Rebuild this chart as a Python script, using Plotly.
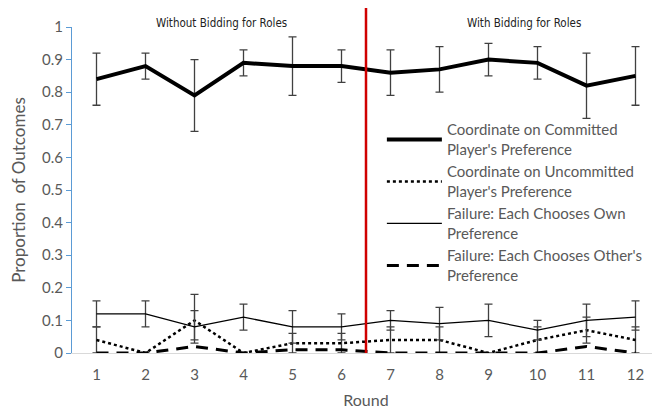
import plotly.graph_objects as go

# Rounds
rounds = list(range(1, 13))
tick_text = [str(r) for r in rounds]

# Coordinate on Committed Player's Preference
committed = [0.84, 0.88, 0.79, 0.89, 0.88, 0.88, 0.86, 0.87, 0.90, 0.89, 0.82, 0.85]
committed_hi = [0.92, 0.92, 0.90, 0.93, 0.97, 0.93, 0.93, 0.94, 0.95, 0.94, 0.92, 0.94]
committed_lo = [0.76, 0.84, 0.68, 0.85, 0.79, 0.83, 0.79, 0.80, 0.85, 0.84, 0.72, 0.76]

# Coordinate on Uncommitted Player's Preference
uncommitted = [0.04, 0.00, 0.10, 0.00, 0.03, 0.03, 0.04, 0.04, 0.00, 0.04, 0.07, 0.04]
uncommitted_hi = [0.08, 0.00, 0.18, 0.00, 0.06, 0.06, 0.08, 0.08, 0.00, 0.08, 0.11, 0.08]
uncommitted_lo = [0.00, 0.00, 0.03, 0.00, 0.00, 0.00, 0.00, 0.00, 0.00, 0.00, 0.03, 0.00]

# Failure: Each Chooses Own Preference
own = [0.12, 0.12, 0.08, 0.11, 0.08, 0.08, 0.10, 0.09, 0.10, 0.07, 0.10, 0.11]
own_hi = [0.16, 0.16, 0.13, 0.15, 0.13, 0.12, 0.13, 0.14, 0.15, 0.10, 0.15, 0.16]
own_lo = [0.08, 0.08, 0.04, 0.07, 0.03, 0.04, 0.07, 0.04, 0.05, 0.04, 0.05, 0.07]

# Failure: Each Chooses Other's Preference
other = [0.00, 0.00, 0.02, 0.00, 0.01, 0.01, 0.00, 0.00, 0.00, 0.00, 0.02, 0.00]

names = ["Coordinate on Committed<br>Player's Preference",
         "Coordinate on Uncommitted<br>Player's Preference",
         "Failure: Each Chooses Own<br>Preference",
         "Failure: Each Chooses Other's<br>Preference"]

gray = '#595959'
errc = '#404040'


def err(vals, hi, lo):
    return dict(type='data', symmetric=False,
                array=[h - v for v, h in zip(vals, hi)],
                arrayminus=[v - l for v, l in zip(vals, lo)],
                color=errc, thickness=1.3, width=4)


fig = go.Figure()
fig.add_trace(go.Scatter(x=rounds, y=committed, mode='lines', name=names[0],
                         line=dict(color='black', width=4),
                         error_y=err(committed, committed_hi, committed_lo)))
fig.add_trace(go.Scatter(x=rounds, y=uncommitted, mode='lines', name=names[1],
                         line=dict(color='black', width=2.5, dash='dot'),
                         error_y=err(uncommitted, uncommitted_hi, uncommitted_lo)))
fig.add_trace(go.Scatter(x=rounds, y=own, mode='lines', name=names[2],
                         line=dict(color='black', width=1.3),
                         error_y=err(own, own_hi, own_lo)))
fig.add_trace(go.Scatter(x=rounds, y=other, mode='lines', name=names[3],
                         line=dict(color='black', width=3, dash='12px,8px')))

# divider between the two treatments
fig.add_shape(type='line', xref='x', yref='paper', x0=6.5, x1=6.5, y0=0, y1=1.1,
              line=dict(color='#D00000', width=2.5))

fig.add_annotation(x=3.55, y=1.013, xref='x', yref='paper', text='Without Bidding for Roles',
                   showarrow=False, yanchor='middle',
                   font=dict(size=11.5, color='#222222', family='DejaVu Sans Condensed, Liberation Sans'))
fig.add_annotation(x=9.73, y=1.013, xref='x', yref='paper', text='With Bidding for Roles',
                   showarrow=False, yanchor='middle',
                   font=dict(size=11.5, color='#222222', family='DejaVu Sans Condensed, Liberation Sans'))

# the page body adds an 8px offset, so the figure is shifted up/left by that much
fig.update_layout(
    width=652, height=401,
    margin=dict(l=64, r=0, t=19, b=56),
    plot_bgcolor='white', paper_bgcolor='white',
    font=dict(family='Lato', color=gray),
    showlegend=True,
    legend=dict(x=0.527, y=0.735, xanchor='left', yanchor='top',
                bgcolor='rgba(255,255,255,0)', font=dict(size=15, color=gray),
                tracegroupgap=0, itemwidth=55),
    xaxis=dict(range=[0.5, 12.5], tickvals=rounds, ticktext=tick_text,
               showgrid=False, zeroline=False, showline=True, linecolor='#D9D9D9',
               ticks='', ticklabelstandoff=8, tickfont=dict(size=15, color=gray), automargin=False,
               title=dict(text='Round', font=dict(size=16, color=gray), standoff=12)),
    yaxis=dict(range=[0, 1], dtick=0.1, tickformat='.1~f',
               showgrid=False, zeroline=False, showline=True, linecolor='#5B9BD5',
               ticks='outside', ticklen=5, tickcolor='#5B9BD5', automargin=False,
               tickfont=dict(size=15, color=gray),
               title=dict(text='Proportion  of Outcomes', font=dict(size=17, color=gray), standoff=20)),
)

fig.write_html("out.html")
